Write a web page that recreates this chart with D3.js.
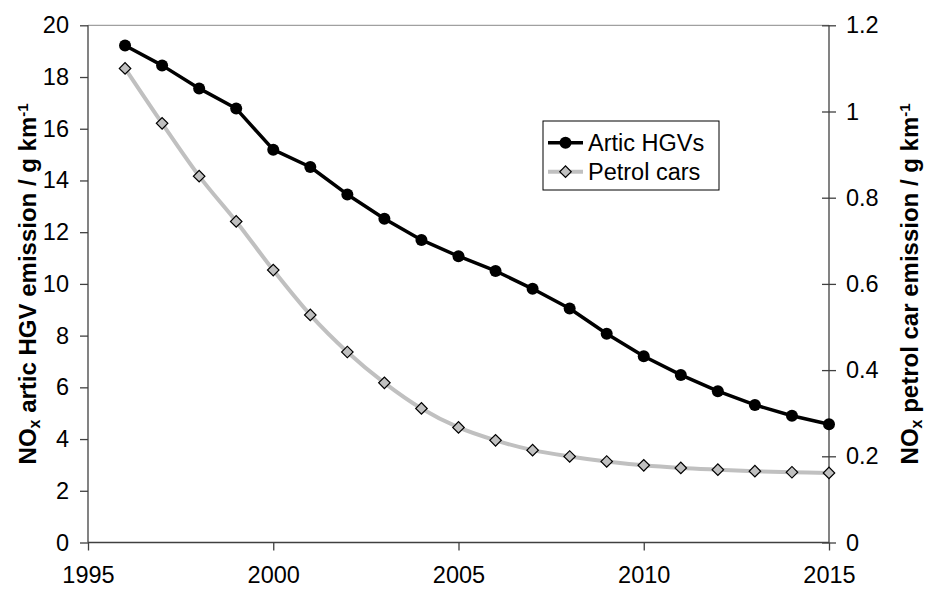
<!DOCTYPE html>
<html>
<head>
<meta charset="utf-8">
<script src="https://cdn.jsdelivr.net/npm/d3@7"></script>
<style>
  body { margin: 0; background: #fff; }
  text { font-family: Arial, "Liberation Sans", sans-serif; fill: #000; }
</style>
</head>
<body>
<script>
const width = 925;
const height = 590;

// Data
const years = [1996, 1997, 1998, 1999, 2000, 2001, 2002, 2003, 2004, 2005,
               2006, 2007, 2008, 2009, 2010, 2011, 2012, 2013, 2014, 2015];
const hgv = [19.22, 18.45, 17.56, 16.78, 15.19, 14.52, 13.46, 12.52, 11.7, 11.07,
             10.5, 9.81, 9.05, 8.07, 7.2, 6.48, 5.85, 5.32, 4.9, 4.57];
const petrol = [1.1, 0.9725, 0.85, 0.745, 0.632, 0.528, 0.442, 0.3705, 0.311, 0.267,
                0.237, 0.2143, 0.1996, 0.188, 0.179, 0.173, 0.169, 0.1655, 0.163, 0.1615];
const xTicks = [1995, 2000, 2005, 2010, 2015];
const leftTicks = [0, 2, 4, 6, 8, 10, 12, 14, 16, 18, 20];
const rightTicks = [0, 0.2, 0.4, 0.6, 0.8, 1, 1.2];
const seriesNames = ["Artic HGVs", "Petrol cars"];

const margin = {top: 25.3, right: 96, bottom: 47.5, left: 88};
const innerW = width - margin.left - margin.right;
const innerH = height - margin.top - margin.bottom;

const svg = d3.select("body")
  .append("svg")
  .attr("width", width)
  .attr("height", height);

const g = svg.append("g")
  .attr("transform", `translate(${margin.left},${margin.top})`);

// Scales
const x = d3.scaleLinear().domain([1995, 2015]).range([0, innerW]);
const yLeft = d3.scaleLinear().domain([0, 20]).range([innerH, 0]);
const yRight = d3.scaleLinear().domain([0, 1.2]).range([innerH, 0]);

const axisColor = "#404040";
const fontSize = "23.5px";

// Top border
g.append("line")
  .attr("x1", 0).attr("x2", innerW)
  .attr("y1", 0).attr("y2", 0)
  .attr("stroke", "#a0a0a0")
  .attr("stroke-width", 1.3);

// Left axis
const leftAxis = g.append("g")
  .call(d3.axisLeft(yLeft).tickValues(leftTicks).tickSize(8).tickPadding(11).tickFormat(d3.format("d")));

// Right axis (ticks cross the line)
const rightAxis = g.append("g")
  .attr("transform", `translate(${innerW},0)`)
  .call(d3.axisRight(yRight).tickValues(rightTicks).tickSize(7).tickPadding(10).tickFormat(d => d3.format("")(d)));
rightAxis.selectAll(".tick line").attr("x1", -7);

// Bottom axis
const bottomAxis = g.append("g")
  .attr("transform", `translate(0,${innerH})`)
  .call(d3.axisBottom(x).tickValues(xTicks).tickSize(8).tickPadding(16).tickFormat(d3.format("d")));

[leftAxis, rightAxis, bottomAxis].forEach(a => {
  a.select(".domain").attr("stroke", axisColor).attr("stroke-width", 1.3);
  a.selectAll(".tick line").attr("stroke", axisColor).attr("stroke-width", 1.3);
  a.selectAll(".tick text")
    .style("font-family", 'Arial, "Liberation Sans", sans-serif')
    .style("font-size", fontSize)
    .attr("fill", "#000");
});
leftAxis.select(".domain").attr("d", `M0,${innerH}V0`);
rightAxis.select(".domain").attr("d", `M0,${innerH}V0`);
bottomAxis.select(".domain").attr("d", `M0,0H${innerW}`);

// Lines
const hgvData = years.map((yr, i) => ({year: yr, value: hgv[i]}));
const petrolData = years.map((yr, i) => ({year: yr, value: petrol[i]}));

g.append("path")
  .datum(hgvData)
  .attr("fill", "none")
  .attr("stroke", "#000")
  .attr("stroke-width", 3.5)
  .attr("stroke-linejoin", "round")
  .attr("d", d3.line().x(d => x(d.year)).y(d => yLeft(d.value)));

g.selectAll(".hgv-pt")
  .data(hgvData)
  .enter()
  .append("circle")
  .attr("class", "hgv-pt")
  .attr("cx", d => x(d.year))
  .attr("cy", d => yLeft(d.value))
  .attr("r", 6)
  .attr("fill", "#000");

g.append("path")
  .datum(petrolData)
  .attr("fill", "none")
  .attr("stroke", "#c0c0c0")
  .attr("stroke-width", 4)
  .attr("d", d3.line().curve(d3.curveCardinal.tension(0)).x(d => x(d.year)).y(d => yRight(d.value)));

const diamond = d3.symbol().type(d3.symbolSquare).size(66);
g.selectAll(".petrol-pt")
  .data(petrolData)
  .enter()
  .append("path")
  .attr("class", "petrol-pt")
  .attr("transform", d => `translate(${x(d.year)},${yRight(d.value)}) rotate(45)`)
  .attr("d", diamond)
  .attr("fill", "#c0c0c0")
  .attr("stroke", "#000")
  .attr("stroke-width", 1.2);

// Legend
const legend = svg.append("g").attr("transform", "translate(543,121)");
legend.append("rect")
  .attr("width", 176).attr("height", 69)
  .attr("fill", "#fff")
  .attr("stroke", "#000")
  .attr("stroke-width", 1);

const rows = [21.7, 50.7];
// HGV entry
legend.append("line")
  .attr("x1", 5).attr("x2", 40).attr("y1", rows[0]).attr("y2", rows[0])
  .attr("stroke", "#000").attr("stroke-width", 3.5);
legend.append("circle")
  .attr("cx", 22.5).attr("cy", rows[0]).attr("r", 6).attr("fill", "#000");
// Petrol entry
legend.append("line")
  .attr("x1", 5).attr("x2", 40).attr("y1", rows[1]).attr("y2", rows[1])
  .attr("stroke", "#c0c0c0").attr("stroke-width", 4);
legend.append("path")
  .attr("transform", `translate(22.5,${rows[1]}) rotate(45)`)
  .attr("d", diamond)
  .attr("fill", "#c0c0c0").attr("stroke", "#000").attr("stroke-width", 1.2);

legend.selectAll(".leg-text")
  .data(seriesNames)
  .enter()
  .append("text")
  .attr("class", "leg-text")
  .attr("x", 45)
  .attr("y", (d, i) => rows[i])
  .attr("dy", "0.35em")
  .style("font-size", fontSize)
  .text(d => d);

// Axis titles
function axisTitle(xPos, label) {
  const t = svg.append("text")
    .attr("transform", `translate(${xPos},${margin.top + innerH / 2}) rotate(-90)`)
    .attr("text-anchor", "middle")
    .style("font-size", "24px")
    .style("font-weight", "bold");
  t.append("tspan").text("NO");
  t.append("tspan").attr("baseline-shift", "-22%").style("font-size", "16px").text("x");
  t.append("tspan").text(` ${label} emission / g km`);
  t.append("tspan").attr("baseline-shift", "super").style("font-size", "15px").text("-1");
}
axisTitle(36, "artic HGV");
axisTitle(918, "petrol car");
</script>
</body>
</html>
